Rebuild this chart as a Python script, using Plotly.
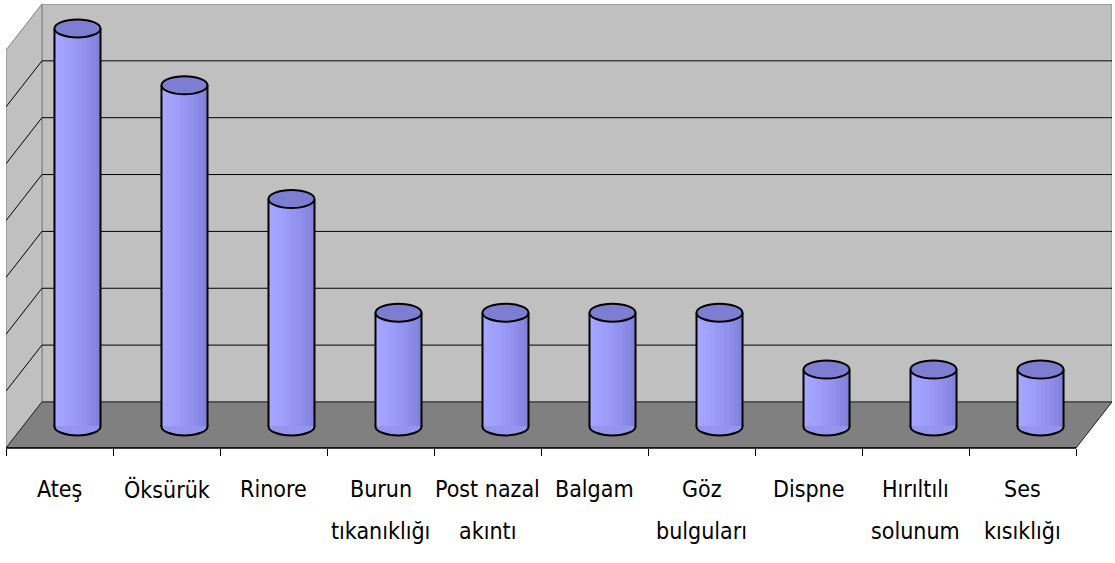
import plotly.graph_objects as go

categories = ["Ateş", "Öksürük", "Rinore", "Burun<br>tıkanıklığı", "Post nazal<br>akıntı",
              "Balgam", "Göz<br>bulguları", "Dispne", "Hırıltılı<br>solunum", "Ses<br>kısıklığı"]
values = [7, 6, 4, 2, 2, 2, 2, 1, 1, 1]
y_max = 7
grid_step = 1

# 3D geometry (in axis units)
D = 0.336      # depth along x (category units)
DY = 0.81      # depth along y (value units)
BASE = 0.38    # bar base depth position (value units)
RX = 0.215     # cylinder half-width
RY = 0.158     # ellipse half-height
n = len(categories)
xs = list(range(n))

fig = go.Figure()

strip_colors = ["#a6a6ff", "#a3a3ff", "#a0a0fd", "#9d9dfa", "#9a9af6", "#9696f2",
                "#9292ee", "#8d8de9", "#8888e3", "#8282dc"]
ns = len(strip_colors)
sw = 2 * RX / ns
for k, col in enumerate(strip_colors):
    fig.add_trace(go.Bar(
        x=xs, y=values, base=[BASE] * n,
        offset=D / 2 - RX + k * sw, width=sw * 1.02,
        marker=dict(color=col, line=dict(width=0)),
        hoverinfo="skip", showlegend=False))

shapes = []
shapes.append(dict(type="rect", xref="x", yref="y", x0=-0.5 + D, x1=n - 0.5 + D, y0=DY, y1=y_max + DY,
                   fillcolor="#c0c0c0", line=dict(color="#808080", width=1), layer="below"))
shapes.append(dict(type="path", xref="x", yref="y",
                   path=f"M {-0.5} 0 L {-0.5 + D} {DY} L {-0.5 + D} {y_max + DY} L {-0.5} {y_max} Z",
                   fillcolor="#c0c0c0", line=dict(color="#808080", width=1), layer="below"))
shapes.append(dict(type="path", xref="x", yref="y",
                   path=f"M {-0.5} 0 L {n - 0.5} 0 L {n - 0.5 + D} {DY} L {-0.5 + D} {DY} Z",
                   fillcolor="#808080", line=dict(color="#202020", width=1), layer="below"))
for g in range(grid_step, y_max, grid_step):
    shapes.append(dict(type="line", xref="x", yref="y", x0=-0.5 + D, x1=n - 0.5 + D, y0=g + DY, y1=g + DY,
                       line=dict(color="#000000", width=1), layer="below"))
    shapes.append(dict(type="line", xref="x", yref="y", x0=-0.5, x1=-0.5 + D, y0=g, y1=g + DY,
                       line=dict(color="#000000", width=1), layer="below"))

for i, v in zip(xs, values):
    cx = i + D / 2
    shapes.append(dict(type="circle", xref="x", yref="y", x0=cx - RX, x1=cx + RX,
                       y0=BASE - RY, y1=BASE + RY, fillcolor="#9595f0",
                       line=dict(color="#000000", width=2), layer="below"))
    for ex in (cx - RX, cx + RX):
        shapes.append(dict(type="line", xref="x", yref="y", x0=ex, x1=ex, y0=BASE, y1=BASE + v,
                           line=dict(color="#000000", width=2), layer="above"))
    shapes.append(dict(type="circle", xref="x", yref="y", x0=cx - RX, x1=cx + RX,
                       y0=BASE + v - RY, y1=BASE + v + RY, fillcolor="#7d7dd2",
                       line=dict(color="#000000", width=2), layer="above"))

shapes.append(dict(type="line", xref="paper", yref="paper", x0=0, x1=n / (n + D), y0=0, y1=0,
                   line=dict(color="#000000", width=1.5), layer="above"))

# category labels, one annotation per text line
label_font = dict(family="DejaVu Sans Condensed, sans-serif", size=23, color="#000000")
annotations = []
for i, cat in zip(xs, categories):
    for li, line in enumerate(cat.split("<br>")):
        annotations.append(dict(x=i, y=0, xref="x", yref="paper", text=line, showarrow=False,
                                xanchor="center", yanchor="middle", yshift=-41 - 42 * li,
                                font=label_font))

fig.update_layout(
    width=1115, height=563,
    margin=dict(l=6, r=3, t=4, b=115),
    paper_bgcolor="#ffffff", plot_bgcolor="#ffffff",
    shapes=shapes, annotations=annotations, bargap=0, barmode="overlay",
    xaxis=dict(range=[-0.5, n - 0.5 + D], tickmode="array", tickvals=xs, showticklabels=False,
               ticks="", showgrid=False, zeroline=False, showline=False, automargin=False,
               minor=dict(tickmode="linear", tick0=-0.5, dtick=1, ticks="outside", ticklen=7,
                          tickcolor="#000000", tickwidth=1, showgrid=False),
               fixedrange=True),
    yaxis=dict(range=[0, y_max + DY], showticklabels=False, showgrid=False, zeroline=False,
               showline=False, ticks="", fixedrange=True, automargin=False),
)

fig.write_html("out.html")
